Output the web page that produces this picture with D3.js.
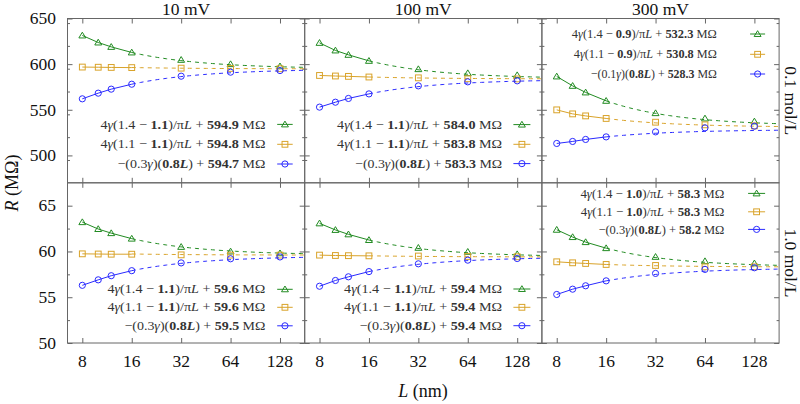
<!DOCTYPE html>
<html><head><meta charset="utf-8">
<script src="https://cdn.jsdelivr.net/npm/d3@7"></script>
<style>html,body{margin:0;padding:0;background:#fff}svg{display:block}</style>
</head><body>
<svg id="chart" width="800" height="404"></svg>
<script>
// ---------- DATA ----------
const lengths = [8, 10, 12, 16, 32, 64, 128];
const voltages = ["10 mV", "100 mV", "300 mV"];
const concentrations = ["0.1 mol/L", "1.0 mol/L"];
const xTickValues = [8, 16, 32, 64, 128];
const yTicksTop = [500, 550, 600, 650];
const yTicksBottom = [50, 55, 60, 65];

// 0.1 mol/L row
const triTop10  = [631.4, 623.7, 618.9, 612.8, 604.7, 600.0, 597.6];
const sqTop10   = [596.8, 596.6, 596.4, 596.2, 595.6, 595.3, 595.0];
const circTop10 = [562.0, 568.2, 572.6, 578.0, 586.8, 591.2, 593.0];
const triTop100  = [623.3, 615.0, 610.2, 603.6, 594.5, 590.1, 587.9];
const sqTop100   = [587.6, 587.0, 586.6, 585.9, 585.0, 584.0, 583.8];
const circTop100 = [552.9, 558.3, 562.4, 567.4, 576.2, 580.6, 581.7];
const triTop300  = [586.5, 576.2, 569.0, 559.8, 546.3, 540.5, 537.2];
const sqTop300   = [549.9, 545.5, 543.3, 540.5, 536.4, 533.5, 532.4];
const circTop300 = [513.1, 515.3, 517.5, 520.3, 525.8, 530.2, 532.0];
// 1.0 mol/L row
const triBot10  = [63.2, 62.45, 62.0, 61.4, 60.5, 60.0, 59.8];
const sqBot10   = [59.74, 59.72, 59.7, 59.7, 59.63, 59.6, 59.6];
const circBot10 = [56.3, 56.9, 57.35, 57.9, 58.75, 59.2, 59.4];
const triBot100  = [63.07, 62.35, 61.87, 61.25, 60.4, 59.96, 59.7];
const sqBot100   = [59.6, 59.56, 59.54, 59.52, 59.5, 59.45, 59.42];
const circBot100 = [56.2, 56.83, 57.23, 57.8, 58.65, 59.05, 59.23];
const triBot300  = [62.37, 61.57, 61.02, 60.36, 59.41, 58.94, 58.7];
const sqBot300   = [58.87, 58.76, 58.69, 58.58, 58.47, 58.32, 58.32];
const circBot300 = [55.3, 55.88, 56.25, 56.79, 57.6, 58.04, 58.22];

// fitted asymptotes (from legend) and 1/L coefficients
const asymTri  = [[594.9, 584.0, 532.3], [59.6, 59.4, 58.3]];
const asymSq   = [[594.8, 583.8, 530.8], [59.6, 59.4, 58.3]];
const asymCirc = [[594.7, 583.3, 528.3], [59.5, 59.4, 58.2]];
const coefTri  = [[286, 314, 440], [28.8, 29.6, 33]];
const coefSq   = [[24, 34, 155], [2, 2, 4.5]];
const coefCirc = [[-267, -254, -128], [-25.6, -25.6, -22.6]];
const legendShift = [["1.1", "1.1", "0.9"], ["1.1", "1.1", "1.0"]];
const legendCircCoef = [["0.3", "0.3", "0.1"], ["0.3", "0.3", "0.3"]];

// ---------- LAYOUT ----------
const svg = d3.select("#chart");
const colors = {tri: "#228b22", sq: "#d9a32a", circ: "#2a2aff"};
const axisColor = "#666";
const serif = "'Liberation Serif', 'DejaVu Serif', serif";
const x0 = 67.5, pw = 237.2;
const rowsY = [[18.5, 182.8], [182.8, 343]];
const yDomains = [[470, 650], [50, 67.5]];
const yTicks = [yTicksTop, yTicksBottom];
const minorStep = [25, 2.5];
const seriesData = [
  [[triTop10, sqTop10, circTop10], [triTop100, sqTop100, circTop100], [triTop300, sqTop300, circTop300]],
  [[triBot10, sqBot10, circBot10], [triBot100, sqBot100, circBot100], [triBot300, sqBot300, circBot300]]
];
const legendLayout = [
  [{te: 39.3, s0: 27.5, s1: 12, rows: [124.4, 144.3, 164], w: [165, 165, 148]},
   {te: 39.8, s0: 28.5, s1: 11.5, rows: [124.6, 144.3, 163.6], w: [165, 165, 147]},
   {te: 62.3, s0: 29, s1: 14, rows: [34, 54.3, 74], w: [145, 143, 126]}],
  [{te: 39.3, s0: 27.5, s1: 12, rows: [289.3, 307.3, 325.8], w: [158, 158, 141]},
   {te: 39.8, s0: 28.5, s1: 11.5, rows: [289, 307.3, 325.7], w: [158, 158, 142.7]},
   {te: 54.7, s0: 31, s1: 14, rows: [193.4, 211.8, 229.4], w: [144, 143.6, 126]}]
];

function marker(g, type, cx, cy, color) {
  if (type === 0) {
    const s = 3.3;
    g.append("path").attr("d", `M${cx},${cy - s}L${cx + s * 1.05},${cy + s * 0.75}L${cx - s * 1.05},${cy + s * 0.75}Z`)
      .attr("fill", "none").attr("stroke", color).attr("stroke-width", 1);
  } else if (type === 1) {
    g.append("rect").attr("x", cx - 2.9).attr("y", cy - 2.9).attr("width", 5.8).attr("height", 5.8)
      .attr("fill", "none").attr("stroke", color).attr("stroke-width", 1);
  } else {
    g.append("circle").attr("cx", cx).attr("cy", cy).attr("r", 3.1)
      .attr("fill", "none").attr("stroke", color).attr("stroke-width", 1);
  }
}
const typeColors = [colors.tri, colors.sq, colors.circ];
const asyms = [asymTri, asymSq, asymCirc];
const coefs = [coefTri, coefSq, coefCirc];

for (let r = 0; r < 2; r++) {
  for (let c = 0; c < 3; c++) {
    const left = x0 + c * pw, right = left + pw;
    const [top, bottom] = rowsY[r];
    const x = d3.scaleLog().base(2).domain([Math.pow(2, 2.7), Math.pow(2, 7.5)]).range([left, right]);
    const y = d3.scaleLinear().domain(yDomains[r]).range([bottom, top]);
    const g = svg.append("g");
    const clipId = `clip${r}${c}`;
    svg.append("clipPath").attr("id", clipId).append("rect")
      .attr("x", left).attr("y", top).attr("width", pw).attr("height", bottom - top);

    const tl = 5;
    const axB = g.append("g").attr("transform", `translate(0,${bottom})`)
      .call(d3.axisTop(x).tickValues(xTickValues).tickSize(tl).tickFormat(""));
    const axT = g.append("g").attr("transform", `translate(0,${top})`)
      .call(d3.axisBottom(x).tickValues(xTickValues).tickSize(tl).tickFormat(""));
    const minors = d3.range(yDomains[r][0], yDomains[r][1] + 1e-9, minorStep[r]).filter(v => v > yDomains[r][0] && v < yDomains[r][1]);
    const majorSet = yTicks[r];
    const minorOnly = minors.filter(v => !majorSet.some(m => Math.abs(m - v) < 1e-6));
    const axL = g.append("g").attr("transform", `translate(${left},0)`)
      .call(d3.axisRight(y).tickValues(majorSet).tickSize(tl).tickFormat(""));
    const axL2 = g.append("g").attr("transform", `translate(${left},0)`)
      .call(d3.axisRight(y).tickValues(minorOnly).tickSize(2.5).tickFormat(""));
    const axR = g.append("g").attr("transform", `translate(${right},0)`)
      .call(d3.axisLeft(y).tickValues(majorSet).tickSize(tl).tickFormat(""));
    const axR2 = g.append("g").attr("transform", `translate(${right},0)`)
      .call(d3.axisLeft(y).tickValues(minorOnly).tickSize(2.5).tickFormat(""));
    [axB, axT, axL, axL2, axR, axR2].forEach(a => {
      a.select(".domain").remove();
      a.selectAll("line").attr("stroke", axisColor).attr("stroke-width", 1);
    });

    if (c === 0) {
      g.selectAll(null).data(majorSet).enter().append("text")
        .attr("x", 56).attr("y", d => y(d)).attr("dy", "0.33em")
        .attr("text-anchor", "end").attr("font-family", serif).attr("font-size", 17.5)
        .attr("fill", "#111").text(d => d3.format("d")(d));
    }
    if (r === 1) {
      g.selectAll(null).data(xTickValues).enter().append("text")
        .attr("x", d => x(d)).attr("y", 367).attr("text-anchor", "middle")
        .attr("font-family", serif).attr("font-size", 17.5).attr("fill", "#111").text(d => d);
    }

    const plot = g.append("g").attr("clip-path", `url(#${clipId})`);
    for (let s = 0; s < 3; s++) {
      const vals = seriesData[r][c][s];
      const col = typeColors[s];
      const a = asyms[s][r][c], k = coefs[s][r][c];
      const fitL = d3.range(0, 61).map(i => 16 * Math.pow(2, 3.5 * i / 60));
      plot.append("path")
        .attr("d", d3.line().x(d => x(d)).y(d => y(a + k / d))(fitL))
        .attr("fill", "none").attr("stroke", col).attr("stroke-width", 1).attr("stroke-dasharray", "4,4");
      const pts = lengths.map((L, i) => [L, vals[i]]);
      plot.append("path").attr("d", d3.line().x(d => x(d[0])).y(d => y(d[1]))(pts.slice(0, 4)))
        .attr("fill", "none").attr("stroke", col).attr("stroke-width", 1);
      pts.forEach(p => marker(plot, s, x(p[0]), y(p[1]), col));
    }

    const lay = legendLayout[r][c];
    for (let s = 0; s < 3; s++) {
      const cy = lay.rows[s];
      const col = typeColors[s];
      const t = g.append("text").attr("x", right - lay.te).attr("y", cy).attr("dy", "0.33em")
        .attr("text-anchor", "end").attr("font-family", serif).attr("font-size", 12.5).attr("fill", "#333")
        .attr("textLength", lay.w[s]).attr("lengthAdjust", "spacingAndGlyphs");
      const aTxt = d3.format(".1f")(asyms[s][r][c]);
      let parts;
      if (s < 2) {
        parts = [["4", ""], ["γ", "i"], [s === 0 ? "(1.4 − " : "(1.1 − ", ""], [legendShift[r][c], "b"],
                 [")/π", ""], ["L", "i"], [" + ", ""], [aTxt, "b"], [" MΩ", ""]];
      } else {
        parts = [["−(" + legendCircCoef[r][c], ""], ["γ", "i"], [")(", ""], ["0.8", "b"], ["L", "bi"],
                 [") + ", ""], [aTxt, "b"], [" MΩ", ""]];
      }
      parts.forEach(([txt, st]) => {
        const ts = t.append("tspan").text(txt);
        if (st.includes("i")) ts.attr("font-style", "italic");
        if (st.includes("b")) ts.attr("font-weight", "bold");
      });
      g.append("line").attr("x1", right - lay.s0).attr("x2", right - lay.s1).attr("y1", cy).attr("y2", cy)
        .attr("stroke", col).attr("stroke-width", 1);
      marker(g, s, right - (lay.s0 + lay.s1) / 2, cy, col);
    }

    g.append("rect").attr("x", left).attr("y", top).attr("width", pw).attr("height", bottom - top)
      .attr("fill", "none").attr("stroke", axisColor).attr("stroke-width", 1);

    if (r === 0) {
      g.append("text").attr("x", (left + right) / 2).attr("y", 14.5).attr("text-anchor", "middle")
        .attr("font-family", serif).attr("font-size", 17.5).attr("fill", "#111").text(voltages[c]);
    }
  }
  const cyRow = (rowsY[r][0] + rowsY[r][1]) / 2;
  svg.append("text").attr("transform", `translate(785,${cyRow}) rotate(90)`).attr("text-anchor", "middle")
    .attr("font-family", serif).attr("font-size", 17.5).attr("fill", "#111").text(concentrations[r]);
}

const yl = svg.append("text").attr("transform", "translate(18,183) rotate(-90)").attr("text-anchor", "middle")
  .attr("font-family", serif).attr("font-size", 18).attr("fill", "#111");
yl.append("tspan").attr("font-style", "italic").text("R");
yl.append("tspan").text(" (MΩ)");
const xl = svg.append("text").attr("x", 423).attr("y", 397).attr("text-anchor", "middle")
  .attr("font-family", serif).attr("font-size", 18).attr("fill", "#111");
xl.append("tspan").attr("font-style", "italic").text("L");
xl.append("tspan").text(" (nm)");
</script>
</body></html>
